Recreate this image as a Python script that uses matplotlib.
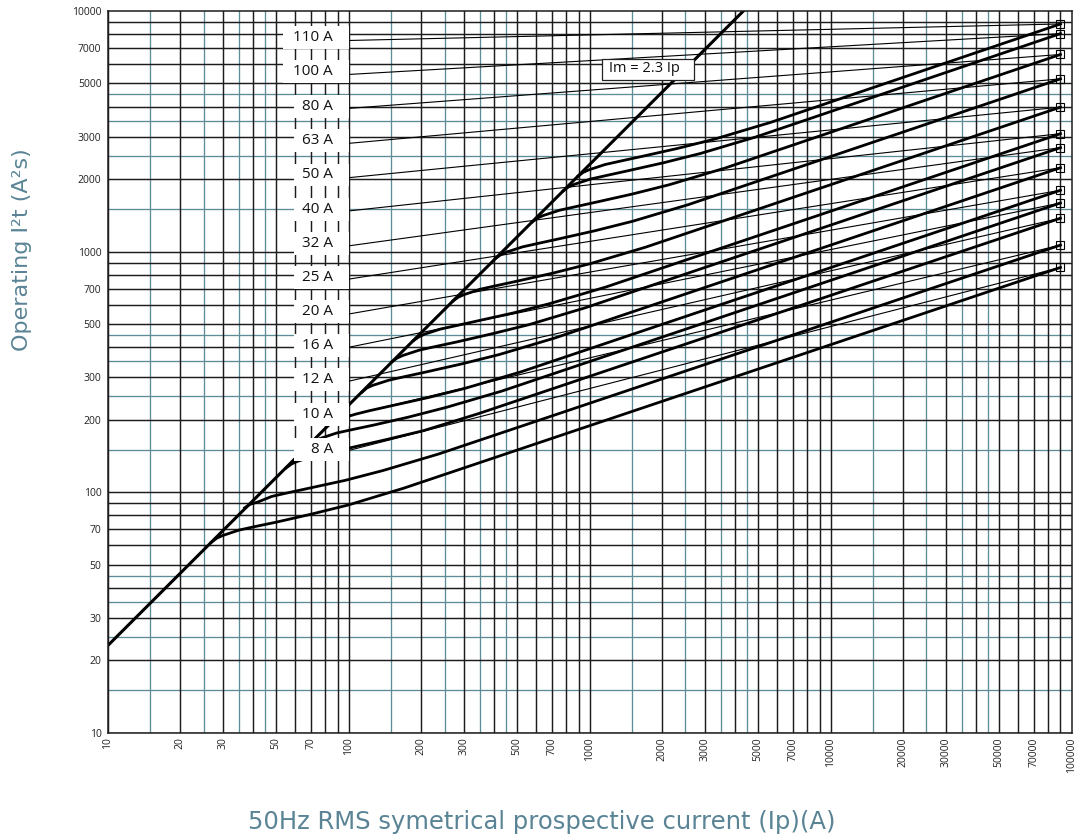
import matplotlib
matplotlib.use("Agg")
import matplotlib.pyplot as plt
from matplotlib.patches import Rectangle

# ---- data ----
ratings = ["110 A", "100 A", "80 A", "63 A", "50 A", "40 A", "32 A",
           "25 A", "20 A", "16 A", "12 A", "10 A", "8 A"]
label_y = [7780, 5623, 4011, 2899, 2081, 1500, 1083, 783, 562, 406, 294, 211, 151]
leader_y = [7540, 5447, 3936, 2817, 2028, 1475, 1056, 768, 550, 400, 289, 208, 149]
end_i2t = [8832, 8054, 6596, 5223, 3984, 3090, 2703, 2231, 1798, 1592, 1376, 1064, 859]
end_current = 90000
leader_current = 100

# Im = 2.3 Ip line
im_x = [10, 5000]
im_y = [23, 11500]

# operating I2t curves (110 A first), last point is the end square
curve_x = [
    [894, 940, 994, 1159, 1325, 1657, 2318, 3313, 5639, 90000],
    [778, 818, 865, 1009, 1154, 1442, 2018, 2884, 4909, 90000],
    [577, 607, 641, 748, 855, 1069, 1496, 2138, 3639, 90000],
    [406, 428, 452, 527, 603, 754, 1054, 1507, 2564, 90000],
    [271, 285, 301, 351, 401, 502, 702, 1004, 1708, 90000],
    [185, 195, 206, 240, 274, 343, 480, 685, 1167, 90000],
    [151, 159, 168, 196, 224, 281, 393, 561, 955, 90000],
    [114, 119, 126, 147, 168, 210, 294, 421, 716, 90000],
    [82, 86, 91, 107, 122, 152, 213, 304, 518, 90000],
    [68, 72, 76, 89, 101, 127, 177, 254, 432, 90000],
    [55, 58, 61, 71, 81, 102, 142, 204, 346, 90000],
    [37, 39, 42, 48, 55, 69, 97, 139, 236, 90000],
    [27, 28.4, 30, 35, 40, 50, 70, 100, 170, 90000],
]
curve_y = [
    [2055, 2133, 2187, 2300, 2370, 2489, 2684, 2937, 3443, 8832],
    [1789, 1857, 1904, 2002, 2063, 2167, 2337, 2557, 2997, 8054],
    [1326, 1377, 1411, 1484, 1529, 1606, 1732, 1895, 2222, 6596],
    [935, 970, 995, 1046, 1078, 1132, 1221, 1336, 1566, 5223],
    [623, 646, 662, 697, 718, 754, 813, 890, 1043, 3984],
    [425, 441, 453, 476, 490, 515, 555, 608, 712, 3090],
    [348, 361, 370, 389, 401, 421, 455, 497, 583, 2703],
    [261, 271, 278, 292, 301, 316, 341, 373, 437, 2231],
    [189, 196, 201, 211, 218, 229, 247, 270, 316, 1798],
    [157, 163, 167, 176, 181, 190, 205, 225, 263, 1592],
    [126, 131, 134, 141, 146, 153, 165, 180, 212, 1376],
    [86, 89, 91, 96, 99, 104, 112, 123, 144, 1064],
    [62, 64.4, 66, 69.5, 71.6, 75, 81, 88.5, 104, 859],
]

xticks = [10, 20, 30, 50, 70, 100, 200, 300, 500, 700, 1000, 2000, 3000,
          5000, 7000, 10000, 20000, 30000, 50000, 70000, 100000]
yticks = [10, 20, 30, 50, 70, 100, 200, 300, 500, 700, 1000, 2000, 3000,
          5000, 7000, 10000]

TEAL = "#5e8c97"
TITLE = "#5a8496"

plt.rcParams["font.family"] = ["Open Sans", "DejaVu Sans"]

fig = plt.figure(figsize=(10.77, 8.39), dpi=100)
ax = fig.add_axes([0.1, 0.1267, 0.8949, 0.8602])
ax.set_xscale("log")
ax.set_yscale("log")
ax.set_xlim(10, 100000)
ax.set_ylim(10, 10000)

# —— grid: black at 1..9 per decade, teal at 1.5/2.5/3.5/4.5 ——
for d in [10, 100, 1000, 10000]:
    for m in range(1, 10):
        ax.axvline(m * d, color="#1c1c1c", lw=1.05, zorder=1.2)
    for m in [1.5, 2.5, 3.5, 4.5]:
        ax.axvline(m * d, color=TEAL, lw=0.95, zorder=1.1)
for d in [10, 100, 1000]:
    for m in range(1, 10):
        ax.axhline(m * d, color="#1c1c1c", lw=1.05, zorder=1.2)
    for m in [1.5, 2.5, 3.5, 4.5]:
        ax.axhline(m * d, color=TEAL, lw=0.95, zorder=1.1)

# thin leader lines from label to the curve end
for ly, ey in zip(leader_y, end_i2t):
    ax.plot([leader_current, end_current], [ly, ey], color="black", lw=0.8, zorder=3)

# thick curves
ax.plot(im_x, im_y, color="black", lw=2.2, zorder=3.5, solid_capstyle="butt")
for cx, cy in zip(curve_x, curve_y):
    ax.plot(cx, cy, color="black", lw=2.0, zorder=3.5, solid_joinstyle="round")
ax.plot([end_current] * len(end_i2t), end_i2t, ls="none", marker="s",
        markersize=5.5, mfc="none", mec="black", mew=0.8, zorder=4, clip_on=False)

# label boxes
for name, ly in zip(ratings, label_y):
    left = 53.4 if len(name) > 4 else 59.5
    ax.add_patch(Rectangle((left, ly / 1.116), leader_current - left, ly * 1.116 - ly / 1.116,
                           fc="white", ec="none", zorder=5))
    ax.text(86, ly, name, ha="right", va="center", fontsize=11, color="#111111", zorder=6)

# Im = 2.3 Ip box
ax.add_patch(Rectangle((1122, 5176), 2717 - 1122, 6346 - 5176, fc="white",
                       ec="#222222", lw=0.9, zorder=5))
ax.text(1685, 5740, "Im = 2.3 Ip", ha="center", va="center", fontsize=10.5,
        color="#111111", zorder=6)

ax.minorticks_off()
ax.set_xticks(xticks)
ax.set_xticklabels([str(t) for t in xticks], rotation=90, fontsize=7.5)
ax.set_yticks(yticks)
ax.set_yticklabels([str(t) for t in yticks], fontsize=7.5)
ax.tick_params(axis="both", which="both", length=0, colors="#222222")
ax.tick_params(axis="x", pad=3.5)
ax.tick_params(axis="y", pad=4.5)
for s in ax.spines.values():
    s.set_color("#1c1c1c")
    s.set_linewidth(1.1)
    s.set_zorder(7)

fig.text(542 / 1077, 1 - 822 / 839, "50Hz RMS symetrical prospective current (Ip)(A)",
         ha="center", va="center", fontsize=17.5, color=TITLE, family="DejaVu Sans")
fig.text(22 / 1077, 1 - 250 / 839, "Operating I²t (A²s)", rotation=90,
         ha="center", va="center", fontsize=16, color=TITLE, family="DejaVu Sans")

fig.savefig("out.png", dpi=100)
